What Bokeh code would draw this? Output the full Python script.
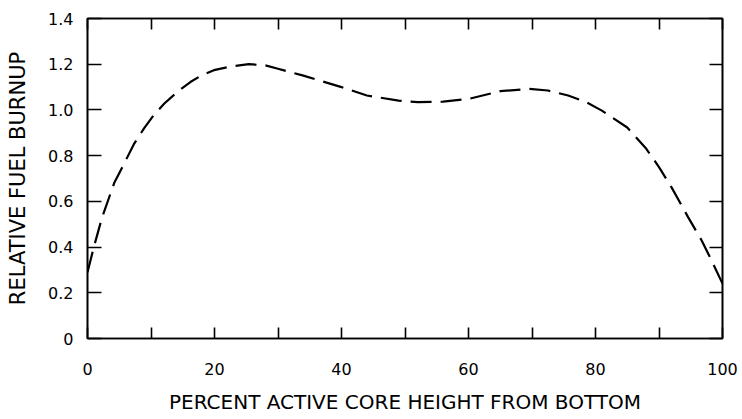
from bokeh.plotting import figure
from bokeh.models import LinearAxis, FixedTicker, Range1d
from bokeh.embed import file_html
from bokeh.resources import INLINE

# Data
height_pct = [0, 1.0, 2.3, 4.2, 5.8, 7.3, 8.9, 10.5, 12.1, 14.2, 16.2, 18.0, 19.9, 22.5, 25.4,
              28.0, 30.0, 34.0, 37.0, 40.0, 44.0, 49.0, 52.0, 56.0, 60.0, 65.0, 69.5,
              72.5, 75.7, 78.5, 81.0, 85.0, 88.0, 90.0, 92.0, 94.6, 96.7, 98.3, 100]
burnup = [0.29, 0.40, 0.53, 0.68, 0.767, 0.85, 0.919, 0.98, 1.028, 1.08, 1.122, 1.152, 1.174, 1.19, 1.2,
          1.195, 1.18, 1.15, 1.125, 1.10, 1.063, 1.041, 1.034, 1.036, 1.048, 1.082, 1.092,
          1.085, 1.063, 1.035, 0.997, 0.923, 0.83, 0.75, 0.66, 0.53, 0.43, 0.34, 0.24]

x_ticks = [0, 10, 20, 30, 40, 50, 60, 70, 80, 90, 100]
x_labels = {0: "0", 10: "", 20: "20", 30: "", 40: "40", 50: "", 60: "60", 70: "", 80: "80", 90: "", 100: "100"}
y_ticks = [0, 0.2, 0.4, 0.6, 0.8, 1.0, 1.2, 1.4]
y_labels = {0: "0", 0.2: "0.2", 0.4: "0.4", 0.6: "0.6", 0.8: "0.8", 1.0: "1.0", 1.2: "1.2", 1.4: "1.4"}

FONT = "DejaVu Sans"

p = figure(width=738, height=418, output_backend="svg", toolbar_location=None,
           x_range=Range1d(0, 100), y_range=Range1d(0, 1.4),
           x_axis_type=None, y_axis_type=None,
           min_border_left=87, min_border_right=16, min_border_top=18, min_border_bottom=80)
p.grid.visible = False
p.outline_line_color = "black"
p.outline_line_width = 1.6
p.background_fill_color = "white"
p.border_fill_color = "white"

def make_axis(ticks, labels, show_labels, tick_len):
    ax = LinearAxis(ticker=FixedTicker(ticks=ticks))
    ax.major_tick_in = tick_len
    ax.major_tick_out = 0
    ax.minor_tick_in = 0
    ax.minor_tick_out = 0
    ax.major_tick_line_width = 1.6
    ax.axis_line_width = 1.6
    ax.major_tick_line_color = "black"
    ax.axis_line_color = "black"
    if show_labels:
        ax.major_label_overrides = labels
        ax.major_label_text_font = FONT
        ax.major_label_text_font_size = "16px"
        ax.major_label_text_color = "black"
    else:
        ax.major_label_overrides = {k: "" for k in ticks}
        ax.major_label_text_font_size = "0px"
        ax.major_label_standoff = 0
    return ax

bottom = make_axis(x_ticks, x_labels, True, 11)
bottom.major_label_standoff = 24
bottom.axis_label = "PERCENT ACTIVE CORE HEIGHT FROM BOTTOM"
bottom.axis_label_text_font = FONT
bottom.axis_label_text_font_style = "normal"
bottom.axis_label_text_font_size = "20px"
bottom.axis_label_text_color = "black"
bottom.axis_label_standoff = 12
p.add_layout(bottom, "below")

left = make_axis(y_ticks, y_labels, True, 14)
left.major_label_standoff = 14
left.axis_label = "RELATIVE FUEL BURNUP"
left.axis_label_text_font = FONT
left.axis_label_text_font_style = "normal"
left.axis_label_text_font_size = "21px"
left.axis_label_text_color = "black"
left.axis_label_standoff = 15
p.add_layout(left, "left")

top = make_axis(x_ticks, x_labels, False, 11)
p.add_layout(top, "above")

right = make_axis(y_ticks, y_labels, False, 13)
p.add_layout(right, "right")

p.line(height_pct, burnup, line_color="black", line_width=2.2, line_dash="21 9")

open("out.html", "w").write(file_html(p, INLINE))
